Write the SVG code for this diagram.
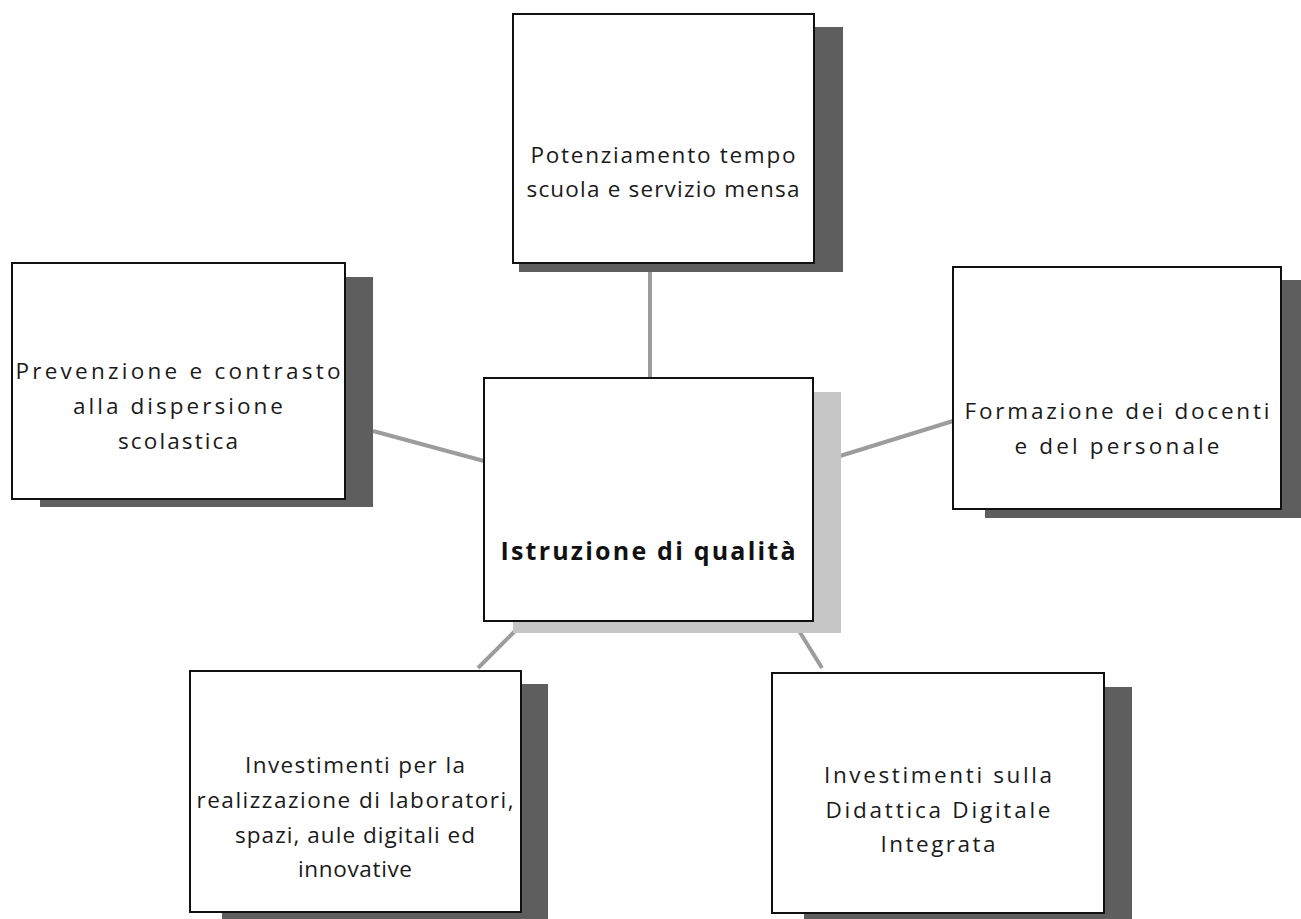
<svg xmlns="http://www.w3.org/2000/svg" width="1301" height="919" viewBox="0 0 1301 919">
<style>
.box{fill:#fff;stroke:#111;stroke-width:2}
.sh{fill:#5e5e5e}
.shl{fill:#c6c6c6}
.t{font-family:"Open Sans","DejaVu Sans",sans-serif;font-size:22.5px;fill:#1a1a1a;text-anchor:middle}
.tb{font-family:"Open Sans","DejaVu Sans",sans-serif;font-size:25px;font-weight:bold;fill:#111;text-anchor:middle}
.c{stroke:#9c9c9c;stroke-width:4;fill:none}
</style>
<rect width="1301" height="919" fill="#fff"/>
<g id="connectors">
<line class="c" x1="650" y1="263" x2="650" y2="378"/>
<line class="c" x1="373" y1="431" x2="484" y2="461"/>
<line class="c" x1="840" y1="456" x2="953" y2="421"/>
<line class="c" x1="519" y1="627" x2="478" y2="668"/>
<line class="c" x1="796" y1="626" x2="822" y2="668"/>
</g>
<g id="node-top">
<rect class="sh" x="519" y="27" width="324" height="245"/>
<rect class="box" x="513" y="14" width="301" height="249"/>
<text class="t" x="663" y="163" textLength="265" lengthAdjust="spacing">Potenziamento tempo</text>
<text class="t" x="663" y="197" textLength="273" lengthAdjust="spacing">scuola e servizio mensa</text>
</g>
<g id="node-left">
<rect class="sh" x="40" y="277" width="333" height="230"/>
<rect class="box" x="12" y="263" width="333" height="236"/>
<text class="t" x="178" y="379" textLength="325" lengthAdjust="spacing">Prevenzione e contrasto</text>
<text class="t" x="178" y="414" textLength="210" lengthAdjust="spacing">alla dispersione</text>
<text class="t" x="178" y="449" textLength="120" lengthAdjust="spacing">scolastica</text>
</g>
<g id="node-right">
<rect class="sh" x="985" y="280" width="316" height="238"/>
<rect class="box" x="953" y="267" width="328" height="242"/>
<text class="t" x="1117" y="419" textLength="305" lengthAdjust="spacing">Formazione dei docenti</text>
<text class="t" x="1117" y="454" textLength="205" lengthAdjust="spacing">e del personale</text>
</g>
<g id="node-center">
<rect class="shl" x="513" y="392" width="328" height="241"/>
<rect class="box" x="484" y="378" width="329" height="243"/>
<text class="tb" x="648" y="560" textLength="295" lengthAdjust="spacing">Istruzione di qualità</text>
</g>
<g id="node-bottom-left">
<rect class="sh" x="222" y="684" width="326" height="240"/>
<rect class="box" x="190" y="671" width="331" height="241"/>
<text class="t" x="355" y="773" textLength="220" lengthAdjust="spacing">Investimenti per la</text>
<text class="t" x="355" y="808" textLength="317" lengthAdjust="spacing">realizzazione di laboratori,</text>
<text class="t" x="355" y="843" textLength="240" lengthAdjust="spacing">spazi, aule digitali ed</text>
<text class="t" x="355" y="877" textLength="114" lengthAdjust="spacing">innovative</text>
</g>
<g id="node-bottom-right">
<rect class="sh" x="804" y="687" width="328" height="240"/>
<rect class="box" x="772" y="673" width="332" height="240"/>
<text class="t" x="938" y="783" textLength="228" lengthAdjust="spacing">Investimenti sulla</text>
<text class="t" x="938" y="818" textLength="225" lengthAdjust="spacing">Didattica Digitale</text>
<text class="t" x="938" y="852" textLength="115" lengthAdjust="spacing">Integrata</text>
</g>
</svg>
